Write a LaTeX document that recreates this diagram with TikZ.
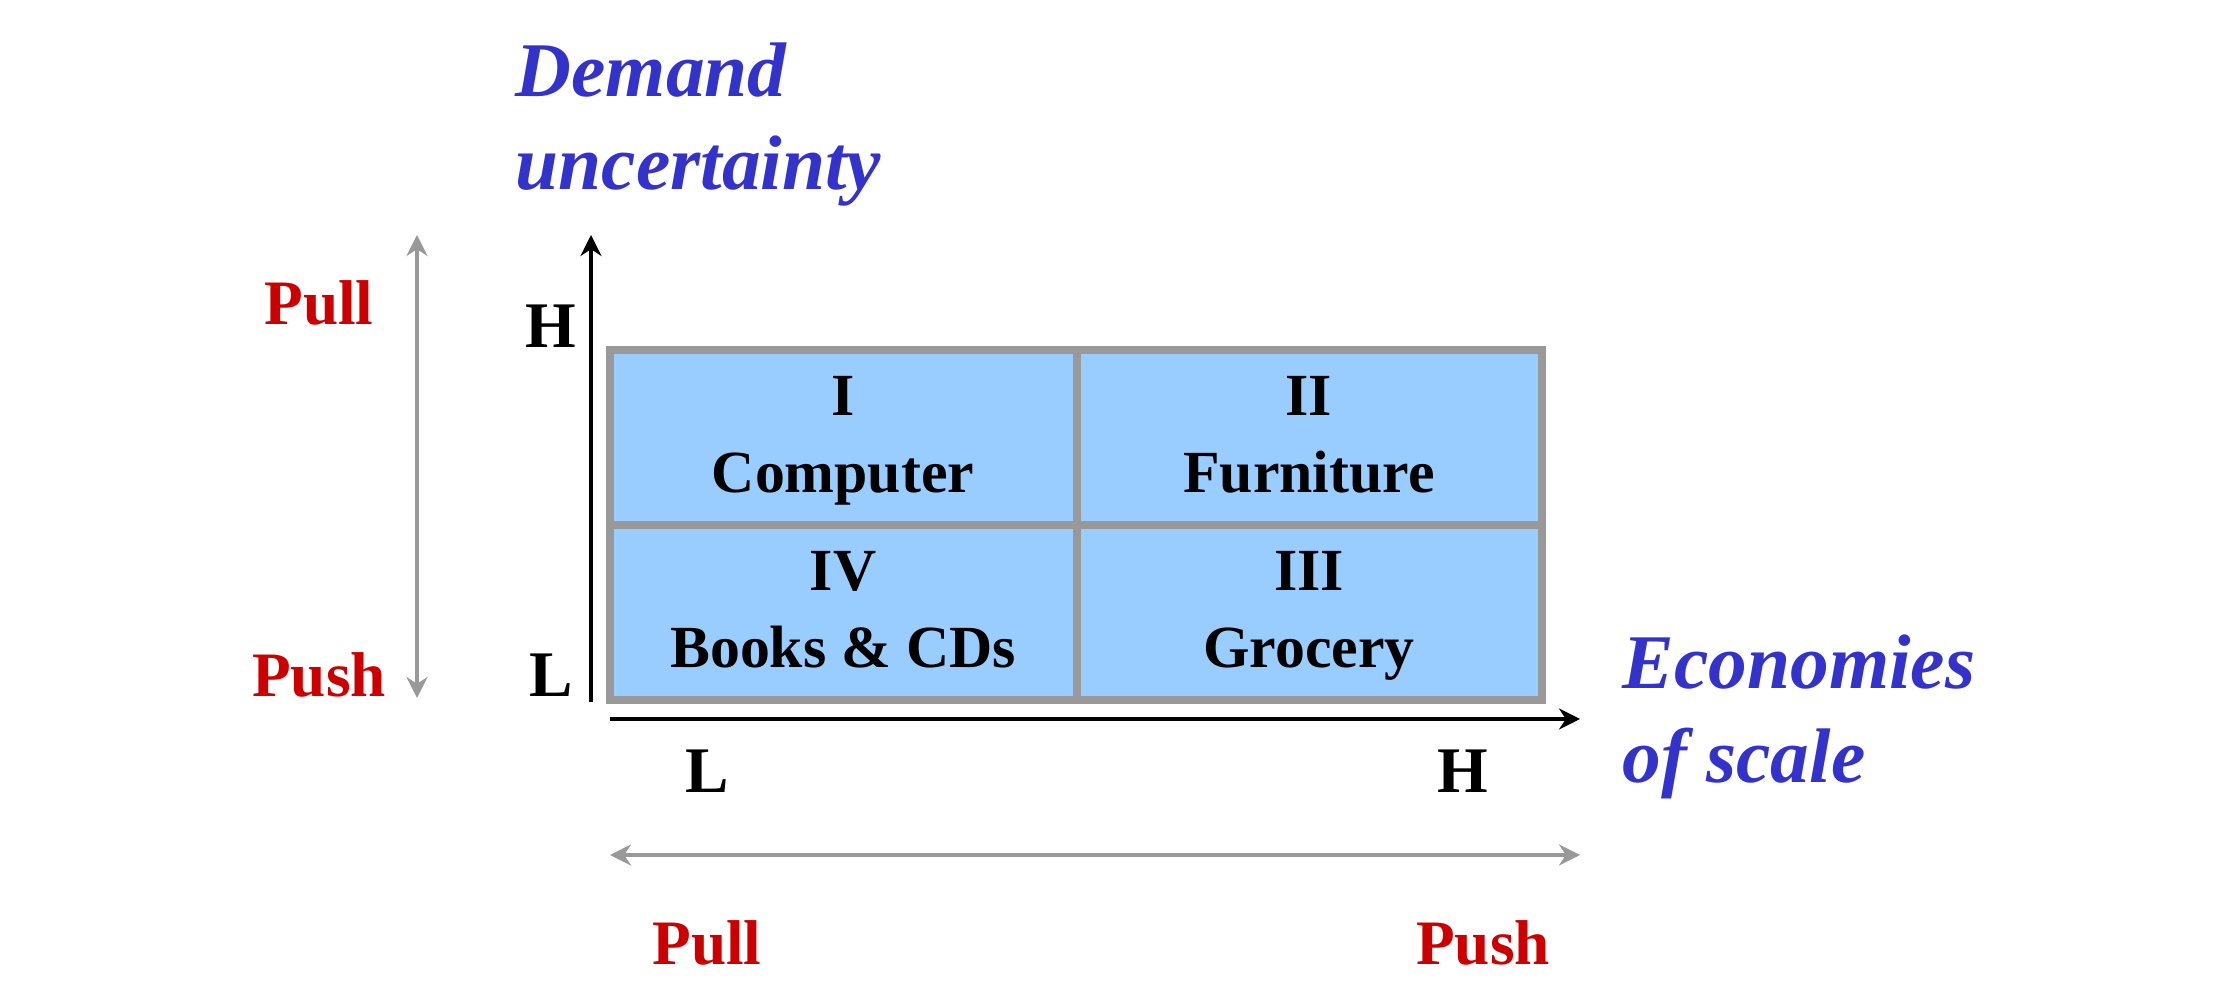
\documentclass[tikz,border=0pt]{standalone}
\usepackage{fontspec}
\setmainfont{Liberation Serif}
\usetikzlibrary{arrows.meta}
\definecolor{axisblue}{HTML}{3333CC}
\definecolor{pushred}{HTML}{CC0000}
\definecolor{cellfill}{HTML}{99CCFF}
\definecolor{cellborder}{HTML}{999999}
\definecolor{guidegray}{HTML}{999999}
\begin{document}
\begin{tikzpicture}[x=0.01cm,y=-0.01cm,
  celltext/.style={inner sep=0pt,align=center,font=\fontsize{17}{21.9}\selectfont\bfseries},
  axistitle/.style={anchor=base west,inner sep=0pt,text=axisblue,font=\fontsize{22}{26}\selectfont\bfseries\itshape},
  redlabel/.style={anchor=base,inner sep=0pt,text=pushred,font=\fontsize{18}{22}\selectfont\bfseries},
  level/.style={anchor=base,inner sep=0pt,font=\fontsize{18.5}{22}\selectfont\bfseries},
  tip/.tip={Stealth[length=6pt,width=6pt,inset=2pt]},
  mainaxis/.style={line width=0.9pt,-tip},
  guide/.style={draw=guidegray,line width=0.9pt,tip-tip}
]
\useasboundingbox (0,0) rectangle (2214,1004);
% cells
\path[draw=cellborder,fill=cellfill,line width=2pt] (610,350) rectangle (1542,700);
\draw[cellborder,line width=2pt] (1077,350) -- (1077,700) (610,525) -- (1542,525);
\node[celltext] (c1) at (843,439) {I\strut\\Computer\strut};
\node[celltext] (c2) at (1309,439) {II\strut\\Furniture\strut};
\node[celltext] (c4) at (843,614) {IV\strut\\Books \& CDs\strut};
\node[celltext] (c3) at (1309,614) {III\strut\\Grocery\strut};
% axes
\coordinate (yo) at (591,702);
\coordinate (yt) at (591,235);
\coordinate (xo) at (610,719);
\coordinate (xt) at (1580,719);
\draw[mainaxis] (yo) -- (yt);
\draw[mainaxis] (xo) -- (xt);
% guide arrows
\coordinate (gvt) at (417,235);
\coordinate (gvb) at (417,698);
\coordinate (ghl) at (610,855);
\coordinate (ghr) at (1580,855);
\draw[guide] (gvb) -- (gvt);
\draw[guide] (ghl) -- (ghr);
% axis titles
\node[axistitle] (d1) at (515,97) {Demand};
\node[axistitle] (d2) at (515,190) {uncertainty};
\node[axistitle] (e1) at (1622,689) {Economies};
\node[axistitle] (e2) at (1622,783) {of scale};
% levels
\node[level] (yh) at (551,348) {H};
\node[level] (yl) at (551,697) {L};
\node[level] (xl) at (707,793) {L};
\node[level] (xh) at (1463,793) {H};
% pull / push
\node[redlabel] (pl) at (319,325) {Pull};
\node[redlabel] (ps) at (319,697) {Push};
\node[redlabel] (bpl) at (707,965) {Pull};
\node[redlabel] (bps) at (1483,965) {Push};
\end{tikzpicture}
\end{document}
